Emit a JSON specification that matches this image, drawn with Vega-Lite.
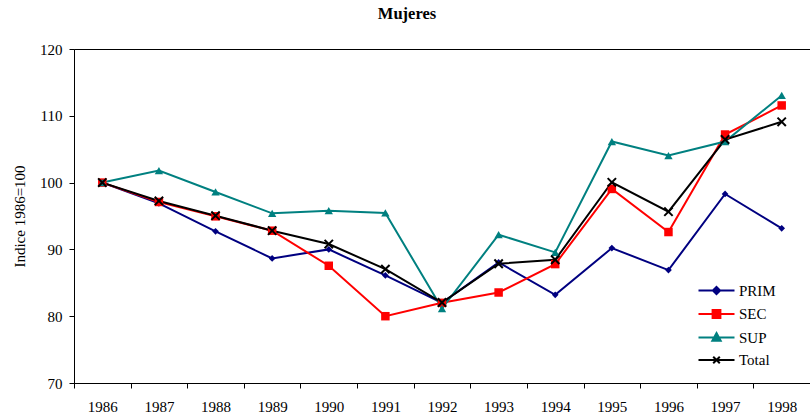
{
  "$schema": "https://vega.github.io/schema/vega-lite/v6.json",
  "autosize": "none",
  "width": 736,
  "height": 334,
  "padding": {"left": 74, "top": 49, "right": 0, "bottom": 33},
  "background": "white",
  "config": {
    "font": "Liberation Serif",
    "view": {"stroke": "black", "strokeWidth": 1},
    "axis": {"grid": false, "domainColor": "black", "tickColor": "black", "labelColor": "black", "titleColor": "black", "labelFont": "Liberation Serif", "titleFont": "Liberation Serif", "labelFontSize": 15, "titleFontSize": 15, "titleFontWeight": "normal", "tickSize": 5, "domainWidth": 1, "tickWidth": 1},
    "legend": {"labelFont": "Liberation Serif"}
  },
  "title": {"text": "Mujeres", "font": "Liberation Serif", "fontSize": 16.5, "fontWeight": "bold", "color": "black", "offset": 20, "dx": -35},
  "data": {"values": [
    {"series": "PRIM", "year": "1986", "value": 100},
    {"series": "PRIM", "year": "1987", "value": 96.9},
    {"series": "PRIM", "year": "1988", "value": 92.7},
    {"series": "PRIM", "year": "1989", "value": 88.65},
    {"series": "PRIM", "year": "1990", "value": 90.0},
    {"series": "PRIM", "year": "1991", "value": 86.1},
    {"series": "PRIM", "year": "1992", "value": 82.0},
    {"series": "PRIM", "year": "1993", "value": 88.05},
    {"series": "PRIM", "year": "1994", "value": 83.2},
    {"series": "PRIM", "year": "1995", "value": 90.2},
    {"series": "PRIM", "year": "1996", "value": 86.9},
    {"series": "PRIM", "year": "1997", "value": 98.3},
    {"series": "PRIM", "year": "1998", "value": 93.15},
    {"series": "SEC", "year": "1986", "value": 100},
    {"series": "SEC", "year": "1987", "value": 97.1},
    {"series": "SEC", "year": "1988", "value": 94.95},
    {"series": "SEC", "year": "1989", "value": 92.8},
    {"series": "SEC", "year": "1990", "value": 87.55},
    {"series": "SEC", "year": "1991", "value": 80.0},
    {"series": "SEC", "year": "1992", "value": 82.0},
    {"series": "SEC", "year": "1993", "value": 83.55},
    {"series": "SEC", "year": "1994", "value": 87.8},
    {"series": "SEC", "year": "1995", "value": 99.05},
    {"series": "SEC", "year": "1996", "value": 92.6},
    {"series": "SEC", "year": "1997", "value": 107.2},
    {"series": "SEC", "year": "1998", "value": 111.55},
    {"series": "SUP", "year": "1986", "value": 100},
    {"series": "SUP", "year": "1987", "value": 101.8},
    {"series": "SUP", "year": "1988", "value": 98.6},
    {"series": "SUP", "year": "1989", "value": 95.4},
    {"series": "SUP", "year": "1990", "value": 95.8},
    {"series": "SUP", "year": "1991", "value": 95.45},
    {"series": "SUP", "year": "1992", "value": 81.15},
    {"series": "SUP", "year": "1993", "value": 92.2},
    {"series": "SUP", "year": "1994", "value": 89.55},
    {"series": "SUP", "year": "1995", "value": 106.15},
    {"series": "SUP", "year": "1996", "value": 104.05},
    {"series": "SUP", "year": "1997", "value": 106.15},
    {"series": "SUP", "year": "1998", "value": 113.05},
    {"series": "Total", "year": "1986", "value": 100},
    {"series": "Total", "year": "1987", "value": 97.25},
    {"series": "Total", "year": "1988", "value": 95.05},
    {"series": "Total", "year": "1989", "value": 92.8},
    {"series": "Total", "year": "1990", "value": 90.8},
    {"series": "Total", "year": "1991", "value": 87.05},
    {"series": "Total", "year": "1992", "value": 82.05},
    {"series": "Total", "year": "1993", "value": 87.85},
    {"series": "Total", "year": "1994", "value": 88.45},
    {"series": "Total", "year": "1995", "value": 100.05},
    {"series": "Total", "year": "1996", "value": 95.65},
    {"series": "Total", "year": "1997", "value": 106.45},
    {"series": "Total", "year": "1998", "value": 109.1}
  ]},
  "encoding": {
    "x": {"field": "year", "type": "ordinal", "scale": {"type": "band", "paddingInner": 0, "paddingOuter": 0},
      "axis": {"title": null, "labelAngle": 0, "tickBand": "extent", "labelPadding": 11}},
    "y": {"field": "value", "type": "quantitative", "scale": {"domain": [70, 120], "nice": false, "zero": false},
      "axis": {"title": "Indice 1986=100", "values": [70, 80, 90, 100, 110, 120], "labelPadding": 7, "titlePadding": 12}}
  },
  "layer": [
    {
      "mark": {"type": "line", "strokeWidth": 2},
      "encoding": {
        "color": {"field": "series", "type": "nominal",
          "scale": {"domain": ["PRIM", "SEC", "SUP", "Total"], "range": ["#000080", "#FF0000", "#008080", "#000000"]},
          "legend": {"title": null, "orient": "none", "legendX": 635, "legendY": 234, "labelFont": "Liberation Serif", "labelFontSize": 15, "labelColor": "black", "symbolSize": 36, "labelOffset": 15, "rowPadding": 6.5, "padding": 0,
            "encode": {"symbols": {"update": {
              "shape": {"signal": "datum.value === 'PRIM' ? 'M-6,0H6M0,-1.2L1.2,0L0,1.2L-1.2,0Z' : datum.value === 'SEC' ? 'M-6,0H6M-1.3,-1.3H1.3V1.3H-1.3Z' : datum.value === 'SUP' ? 'M-6,0H6M0,-1.5L1.4,1.1H-1.4Z' : 'M-6,0H6M-1.1,-1.1L1.1,1.1M-1.1,1.1L1.1,-1.1'"},
              "fill": {"signal": "datum.value === 'Total' ? 'transparent' : scale('color', datum.value)"},
              "stroke": {"signal": "scale('color', datum.value)"},
              "strokeWidth": {"value": 2},
              "opacity": {"value": 1}
            }}}}
        }
      }
    },
    {
      "transform": [{"filter": "datum.series === 'PRIM'"}],
      "mark": {"type": "point", "shape": "diamond", "size": 45, "filled": true, "color": "#000080", "opacity": 1}
    },
    {
      "transform": [{"filter": "datum.series === 'SEC'"}],
      "mark": {"type": "point", "shape": "square", "size": 72, "filled": true, "color": "#FF0000", "opacity": 1}
    },
    {
      "transform": [{"filter": "datum.series === 'SUP'"}],
      "mark": {"type": "point", "shape": "triangle-up", "size": 70, "filled": true, "color": "#008080", "opacity": 1}
    },
    {
      "transform": [{"filter": "datum.series === 'Total'"}],
      "mark": {"type": "point", "shape": "M-1,-1L1,1M-1,1L1,-1", "size": 70, "filled": false, "color": "#000000", "strokeWidth": 2, "opacity": 1}
    }
  ]
}
